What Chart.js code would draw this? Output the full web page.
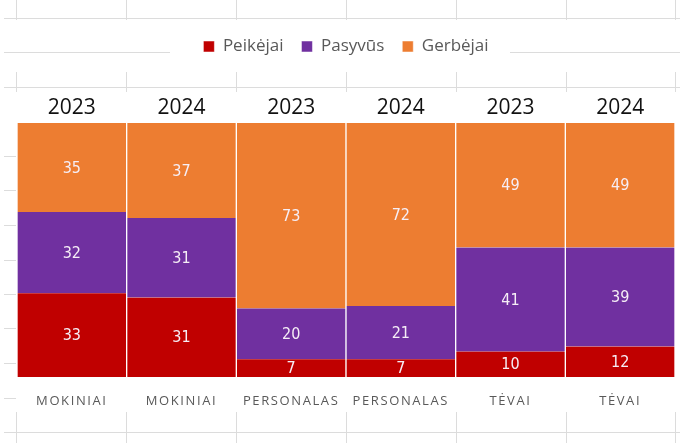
<!DOCTYPE html>
<html>
<head>
<meta charset="utf-8">
<script src="https://cdn.jsdelivr.net/npm/chart.js@4/dist/chart.umd.min.js"></script>
<style>
  html, body { margin:0; padding:0; background:#fff; }
  #wrap { width:680px; height:443px; position:relative; }
</style>
</head>
<body>
<div id="wrap"><canvas id="grupesChart" width="680" height="443"></canvas></div>
<script>
// duomenys
const groups = ["MOKINIAI", "MOKINIAI", "PERSONALAS", "PERSONALAS", "TĖVAI", "TĖVAI"];
const years = ["2023", "2024", "2023", "2024", "2023", "2024"];
const peikejai = [33, 31, 7, 7, 10, 12];
const pasyvus = [32, 31, 20, 21, 41, 39];
const gerbejai = [35, 37, 73, 72, 49, 49];

const fontFam = '"Liberation Sans Narrow", "DejaVu Sans Condensed", "Noto Sans", sans-serif';

// 100% stacked, kaip Excel
function share(arr, i) {
    let sum = peikejai[i] + pasyvus[i] + gerbejai[i];
    return arr[i] / sum * 100;
}
function pct(arr) {
    let out = new Array();
    for(let i=0; i<arr.length; i++) out.push(share(arr, i));
    return out;
}

// fono tinklelis (kaip skaičiuoklėje)
const sheetGrid = {
    id:'sheetGrid',
    beforeDraw(chart) {
        const ctx = chart.ctx;
        ctx.save();
        ctx.strokeStyle = '#dcdcdc';
        ctx.lineWidth = 1;
        const rows = [18, 52, 87, 156, 190, 225, 260, 294, 328, 363, 398, 432];
        rows.forEach(function(y){
            ctx.beginPath(); ctx.moveTo(4, y+0.5); ctx.lineTo(16, y+0.5); ctx.stroke();
        });
        ctx.beginPath(); ctx.moveTo(4, 18.5); ctx.lineTo(680, 18.5); ctx.stroke();
        ctx.beginPath(); ctx.moveTo(4, 52.5); ctx.lineTo(170, 52.5); ctx.stroke();
        ctx.beginPath(); ctx.moveTo(510, 52.5); ctx.lineTo(680, 52.5); ctx.stroke();
        ctx.beginPath(); ctx.moveTo(4, 87.5); ctx.lineTo(680, 87.5); ctx.stroke();
        ctx.beginPath(); ctx.moveTo(4, 432.5); ctx.lineTo(680, 432.5); ctx.stroke();
        const cols = [16, 126, 236, 346, 456, 566, 675];
        cols.forEach(function(x){
            ctx.beginPath(); ctx.moveTo(x+0.5, 0); ctx.lineTo(x+0.5, 20); ctx.stroke();
            ctx.beginPath(); ctx.moveTo(x+0.5, 72); ctx.lineTo(x+0.5, 92); ctx.stroke();
            ctx.beginPath(); ctx.moveTo(x+0.5, 412); ctx.lineTo(x+0.5, 443); ctx.stroke();
        });
        ctx.restore();
    }
};

// reikšmės ant stulpelių
const barLabels = {
    id:'barLabels',
    afterDatasetsDraw(chart) {
        const ctx = chart.ctx;
        ctx.save();
        ctx.font = '16px ' + fontFam;
        ctx.fillStyle = '#f6eef6';
        ctx.textAlign = 'center';
        ctx.textBaseline = 'middle';
        chart.data.datasets.forEach(function(ds, di){
            const meta = chart.getDatasetMeta(di);
            meta.data.forEach(function(bar, i){
                const mid = (bar.y + bar.base) / 2;
                ctx.fillText(ds.raw[i], bar.x, mid + 1);
            });
        });
        ctx.restore();
    }
};

// apatinės etiketės su tarpais tarp raidžių
const groupLabels = {
    id:'groupLabels',
    afterDraw(chart) {
        const ctx = chart.ctx;
        const sc = chart.scales.x;
        ctx.save();
        ctx.font = '13px "Open Sans", sans-serif';
        ctx.letterSpacing = '1.6px';
        ctx.fillStyle = '#595959';
        ctx.textAlign = 'center';
        ctx.textBaseline = 'middle';
        for(let i=0; i<groups.length; i++) {
            ctx.fillText(groups[i], sc.getPixelForTick(i), 401);
        }
        ctx.restore();
    }
};

let grupesChart = new Chart(document.getElementById('grupesChart'), {
    type:'bar',
    plugins:[sheetGrid, barLabels, groupLabels],
    data:{
        labels:groups,
        datasets:[{
            label:"Peikėjai",
            data:pct(peikejai),
            raw:peikejai,
            backgroundColor:'#c00000'
        },{
            label:"Pasyvūs",
            data:pct(pasyvus),
            raw:pasyvus,
            backgroundColor:'#7030a0'
        },{
            label:"Gerbėjai",
            data:pct(gerbejai),
            raw:gerbejai,
            backgroundColor:'#ed7d31'
        }]
    },
    options:{
        responsive:false,
        animation:false,
        events:[],
        layout:{ padding:{ left:17, right:5, top:20, bottom:58 } },
        datasets:{
            bar:{
                categoryPercentage:1,
                barPercentage:1,
                borderColor:'#ffffff',
                borderWidth:{ left:1, right:1, top:0, bottom:0 },
                borderSkipped:false
            }
        },
        plugins:{
            legend:{
                position:'top',
                labels:{
                    font:{ size:17, family:'"Open Sans", sans-serif' },
                    color:'#595959',
                    boxWidth:11,
                    boxHeight:11,
                    padding:18
                }
            },
            tooltip:{ enabled:false }
        },
        scales:{
            x:{
                stacked:true,
                grid:{ display:false },
                border:{ display:false },
                ticks:{ display:false }
            },
            x2:{
                position:'top',
                type:'category',
                labels:years,
                grid:{ display:false },
                border:{ display:false },
                ticks:{
                    font:{ size:21, family:'"Open Sans", sans-serif' },
                    color:'#111111',
                    padding:-6
                },
                afterFit:function(scale) {
                    scale.height = 58;
                }
            },
            y:{
                stacked:true,
                min:0,
                max:100,
                display:false
            }
        }
    }
});
</script>
</body>
</html>
